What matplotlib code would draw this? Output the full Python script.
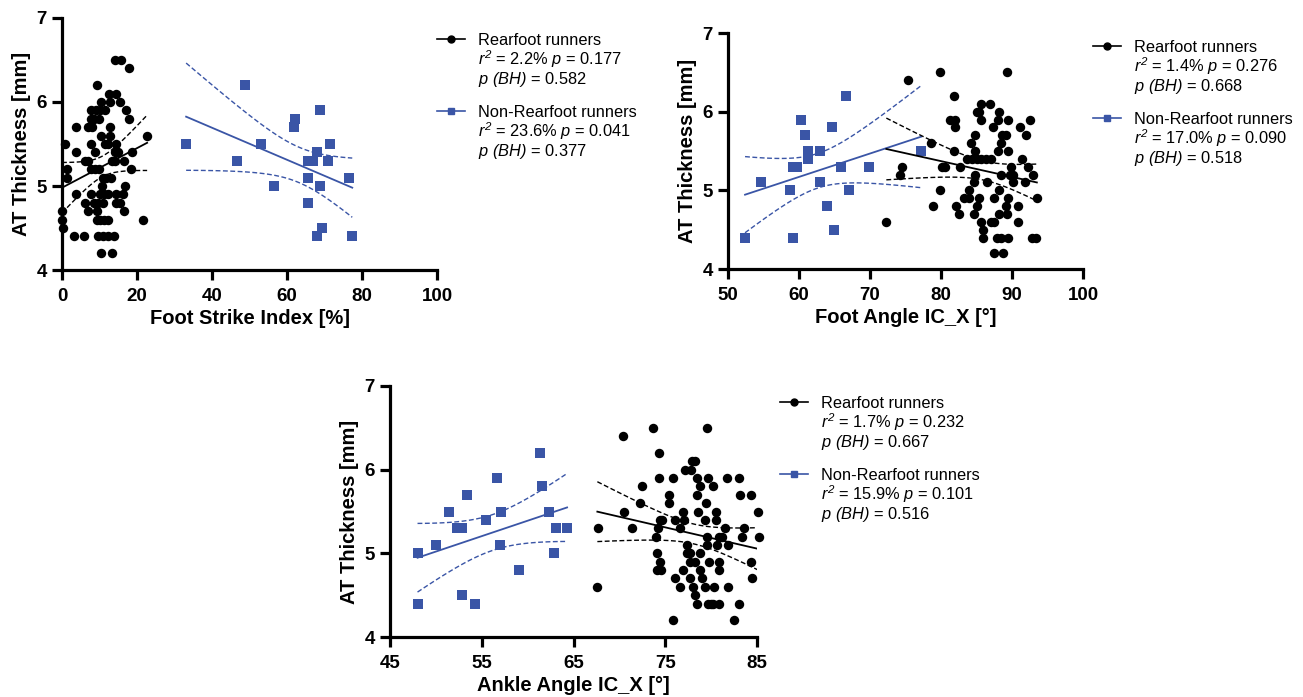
import numpy as np
import matplotlib.pyplot as plt
from matplotlib.lines import Line2D

plt.rcParams['font.family'] = ['Liberation Sans', 'DejaVu Sans']
plt.rcParams['mathtext.fontset'] = 'custom'
plt.rcParams['mathtext.rm'] = 'Liberation Sans:italic'
plt.rcParams['mathtext.it'] = 'Liberation Sans:italic'

BLACK = '#000000'
BLUE = '#3a55a6'
T_REAR = 1.989   # t(0.975, df~81)
T_NON = 2.101    # t(0.975, df=18)

# ---- Foot Strike Index panel ----
fsi_rear_x = [14.1, 15.6, 17.8, 9.4, 12.4, 14.5, 10.5, 12.7, 15.4,
              7.8, 9.0, 10.2, 11.4, 17.0,
              7.6, 8.6, 9.9, 17.9,
              3.8, 6.8, 8.0, 12.9,
              10.5, 12.9, 22.7,
              0.7, 7.6, 11.4, 12.3, 14.5,
              3.6, 8.7, 14.0, 14.9, 18.7,
              6.1, 7.0, 13.2, 14.1, 16.5,
              1.4, 7.8, 8.7, 9.9, 18.3,
              1.3, 10.9, 11.8, 13.0,
              10.7, 16.7,
              3.6, 7.8, 10.0, 11.2, 12.3, 14.5, 16.3,
              6.2, 8.5, 9.6, 10.9, 14.5, 15.4,
              0.0, 6.8, 9.4, 16.4,
              0.0, 9.4, 10.2, 11.2, 12.3, 21.6,
              0.3,
              3.1, 5.9, 9.6, 10.9, 12.3, 13.9,
              10.5, 13.3]
fsi_rear_y = [6.5, 6.5, 6.4, 6.2, 6.1, 6.1, 6.0, 6.0, 6.0,
              5.9, 5.9, 5.9, 5.9, 5.9,
              5.8, 5.8, 5.8, 5.8,
              5.7, 5.7, 5.7, 5.7,
              5.6, 5.6, 5.6,
              5.5, 5.5, 5.5, 5.5, 5.5,
              5.4, 5.4, 5.4, 5.4, 5.4,
              5.3, 5.3, 5.3, 5.3, 5.3,
              5.2, 5.2, 5.2, 5.2, 5.2,
              5.1, 5.1, 5.1, 5.1,
              5.0, 5.0,
              4.9, 4.9, 4.9, 4.9, 4.9, 4.9, 4.9,
              4.8, 4.8, 4.8, 4.8, 4.8, 4.8,
              4.7, 4.7, 4.7, 4.7,
              4.6, 4.6, 4.6, 4.6, 4.6, 4.6,
              4.5,
              4.4, 4.4, 4.4, 4.4, 4.4, 4.4,
              4.2, 4.2]
fsi_non_x = [33.1, 48.8, 46.7, 53.0, 56.6, 61.8, 62.2, 68.8, 65.5, 66.9,
             68.1, 71.0, 71.5, 65.5, 68.9, 65.5, 69.3, 67.9, 76.6, 77.4]
fsi_non_y = [5.5, 6.2, 5.3, 5.5, 5.0, 5.7, 5.8, 5.9, 5.3, 5.3,
             5.4, 5.3, 5.5, 5.1, 5.0, 4.8, 4.5, 4.4, 5.1, 4.4]

# ---- Foot Angle IC_X panel ----
fa_rear_x = [79.8, 89.3, 75.4, 81.8, 85.6, 86.9, 85.0, 85.4, 88.2,
             81.3, 82.0, 85.6, 88.0, 89.5, 92.6,
             82.0, 87.3, 91.1,
             84.8, 88.6, 89.1, 92.0,
             78.6, 84.2, 88.4,
             81.8, 84.8, 88.0, 89.4,
             83.6, 84.3, 85.0, 85.7, 86.4, 87.0, 91.4,
             74.5, 80.2, 80.6, 82.7, 89.9, 92.3,
             74.2, 84.8, 88.5, 89.7, 90.1, 93.0,
             84.6, 86.5, 90.2, 91.9,
             79.8, 84.0, 88.1,
             83.2, 83.9, 85.4, 87.5, 89.5, 93.5,
             78.9, 82.1, 85.0, 89.2, 90.8,
             82.6, 84.6, 88.2, 89.3,
             72.3, 85.7, 87.1, 87.5, 90.8,
             85.9,
             85.9, 87.9, 88.4, 89.4, 92.8, 93.4,
             87.4, 88.7]
fa_rear_y = [6.5, 6.5, 6.4, 6.2, 6.1, 6.1, 6.0, 6.0, 6.0,
             5.9, 5.9, 5.9, 5.9, 5.9, 5.9,
             5.8, 5.8, 5.8,
             5.7, 5.7, 5.7, 5.7,
             5.6, 5.6, 5.6,
             5.5, 5.5, 5.5, 5.5,
             5.4, 5.4, 5.4, 5.4, 5.4, 5.4, 5.4,
             5.3, 5.3, 5.3, 5.3, 5.3, 5.3,
             5.2, 5.2, 5.2, 5.2, 5.2, 5.2,
             5.1, 5.1, 5.1, 5.1,
             5.0, 5.0, 5.0,
             4.9, 4.9, 4.9, 4.9, 4.9, 4.9,
             4.8, 4.8, 4.8, 4.8, 4.8,
             4.7, 4.7, 4.7, 4.7,
             4.6, 4.6, 4.6, 4.6, 4.6,
             4.5,
             4.4, 4.4, 4.4, 4.4, 4.4, 4.4,
             4.2, 4.2]
fa_non_x = [52.4, 54.7, 58.7, 59.2, 59.1, 59.7, 60.3, 60.8, 61.3, 61.3,
            62.9, 63.0, 63.9, 64.7, 64.9, 65.9, 66.6, 67.0, 69.8, 77.2]
fa_non_y = [4.4, 5.1, 5.0, 4.4, 5.3, 5.3, 5.9, 5.7, 5.5, 5.4,
            5.5, 5.1, 4.8, 5.8, 4.5, 5.3, 6.2, 5.0, 5.3, 5.5]

# ---- Ankle Angle IC_X panel ----
aa_rear_x = [73.7, 79.6, 70.4, 74.3, 77.9, 78.2, 77.1, 77.8,
             74.3, 75.8, 78.5, 79.7, 81.7, 83.0,
             72.5, 78.8, 80.2,
             75.4, 78.5, 83.1, 84.3,
             72.3, 75.4, 79.4,
             70.5, 76.9, 78.6, 80.5, 85.1,
             74.4, 74.7, 76.1, 77.0, 79.3, 80.5,
             67.7, 71.4, 74.2, 76.6, 81.5, 83.6,
             74.0, 79.5, 80.9, 81.2, 83.4, 85.2,
             77.4, 79.6, 80.6, 81.8,
             74.1, 77.4, 77.7, 78.8,
             74.4, 77.7, 78.2, 79.8, 80.9, 84.3,
             74.1, 74.5, 76.9, 78.8, 80.9,
             76.1, 77.7, 79.0, 84.5,
             67.6, 76.6, 78.0, 79.3, 80.3, 81.8,
             78.2,
             78.5, 79.7, 80.0, 80.2, 80.9, 83.0,
             75.8, 82.5]
aa_rear_y = [6.5, 6.5, 6.4, 6.2, 6.1, 6.1, 6.0, 6.0,
             5.9, 5.9, 5.9, 5.9, 5.9, 5.9,
             5.8, 5.8, 5.8,
             5.7, 5.7, 5.7, 5.7,
             5.6, 5.6, 5.6,
             5.5, 5.5, 5.5, 5.5, 5.5,
             5.4, 5.4, 5.4, 5.4, 5.4, 5.4,
             5.3, 5.3, 5.3, 5.3, 5.3, 5.3,
             5.2, 5.2, 5.2, 5.2, 5.2, 5.2,
             5.1, 5.1, 5.1, 5.1,
             5.0, 5.0, 5.0, 5.0,
             4.9, 4.9, 4.9, 4.9, 4.9, 4.9,
             4.8, 4.8, 4.8, 4.8, 4.8,
             4.7, 4.7, 4.7, 4.7,
             4.6, 4.6, 4.6, 4.6, 4.6, 4.6,
             4.5,
             4.4, 4.4, 4.4, 4.4, 4.4, 4.4,
             4.2, 4.2]
aa_non_x = [48.0, 48.05, 50.0, 51.4, 52.3, 52.9, 52.9, 53.4, 54.3, 55.5,
            56.7, 57.0, 57.1, 59.1, 61.3, 61.6, 62.3, 62.9, 63.1, 64.3]
aa_non_y = [5.0, 4.4, 5.1, 5.5, 5.3, 5.3, 4.5, 5.7, 4.4, 5.4,
            5.9, 5.1, 5.5, 4.8, 6.2, 5.8, 5.5, 5.0, 5.3, 5.3]

legend_texts = {
    'fsi': [r'$r^2$ = 2.2% $p$ = 0.177', r'$p\ (BH)$ = 0.582',
            r'$r^2$ = 23.6% $p$ = 0.041', r'$p\ (BH)$ = 0.377'],
    'fa': [r'$r^2$ = 1.4% $p$ = 0.276', r'$p\ (BH)$ = 0.668',
           r'$r^2$ = 17.0% $p$ = 0.090', r'$p\ (BH)$ = 0.518'],
    'aa': [r'$r^2$ = 1.7% $p$ = 0.232', r'$p\ (BH)$ = 0.667',
           r'$r^2$ = 15.9% $p$ = 0.101', r'$p\ (BH)$ = 0.516'],
}


def fit_with_ci(x, y, t):
    x = np.asarray(x, float)
    y = np.asarray(y, float)
    b, a = np.polyfit(x, y, 1)
    n = len(x)
    s = np.sqrt(np.sum((y - (a + b * x)) ** 2) / (n - 2))
    sxx = np.sum((x - x.mean()) ** 2)
    xs = np.linspace(x.min(), x.max(), 120)
    yhat = a + b * xs
    half = t * s * np.sqrt(1.0 / n + (xs - x.mean()) ** 2 / sxx)
    return xs, yhat, yhat - half, yhat + half


def draw_group(ax, x, y, color, marker, t):
    ax.plot(x, y, linestyle='none', marker=marker, color=color, ms=6.8,
            mew=0, clip_on=False, zorder=3)
    xs, yhat, lo, hi = fit_with_ci(x, y, t)
    ax.plot(xs, yhat, color=color, lw=1.3, zorder=4)
    for band in (lo, hi):
        ax.plot(xs, band, color=color, lw=1.0, dashes=(3.5, 1.8), zorder=4)


def style_axes(ax, xlim, xticks, xlabel):
    ax.set_xlim(*xlim)
    ax.set_ylim(4, 7)
    ax.set_xticks(xticks)
    ax.set_yticks([4, 5, 6, 7])
    for side in ('top', 'right'):
        ax.spines[side].set_visible(False)
    for side in ('left', 'bottom'):
        ax.spines[side].set_linewidth(2.3)
    ax.tick_params(width=2.3, length=7, labelsize=13.5)
    ax.tick_params(axis='x', pad=6)
    ax.tick_params(axis='y', pad=4)
    for lab in ax.get_xticklabels() + ax.get_yticklabels():
        lab.set_fontweight('bold')
    ax.set_xlabel(xlabel, fontsize=14.5, fontweight='bold', labelpad=2.5)
    ax.set_ylabel('AT Thickness [mm]', fontsize=14.5, fontweight='bold', labelpad=4)


def add_legend(fig, texts, anchor):
    blank = Line2D([], [], linestyle='none')
    rear = Line2D([], [], color=BLACK, marker='o', ms=5, lw=1.2)
    non = Line2D([], [], color=BLUE, marker='s', ms=5, lw=1.2)
    handles = [rear, blank, blank, blank, non, blank, blank]
    labels = ['Rearfoot runners', texts[0], texts[1], ' ',
              'Non-Rearfoot runners', texts[2], texts[3]]
    fig.legend(handles, labels, loc='upper left', bbox_to_anchor=anchor,
               frameon=False, fontsize=11.8, handlelength=1.7,
               handletextpad=0.8, labelspacing=0.02, borderpad=0,
               borderaxespad=0)


W, H = 1303, 697
fig = plt.figure(figsize=(W / 100, H / 100), dpi=100)

ax1 = fig.add_axes([62 / W, 1 - 270 / H, 375 / W, 252 / H])
draw_group(ax1, fsi_rear_x, fsi_rear_y, BLACK, 'o', T_REAR)
draw_group(ax1, fsi_non_x, fsi_non_y, BLUE, 's', T_NON)
style_axes(ax1, (0, 100), [0, 20, 40, 60, 80, 100], 'Foot Strike Index [%]')

ax2 = fig.add_axes([728 / W, 1 - 269 / H, 355 / W, 236 / H])
draw_group(ax2, fa_non_x, fa_non_y, BLUE, 's', T_NON)
draw_group(ax2, fa_rear_x, fa_rear_y, BLACK, 'o', T_REAR)
style_axes(ax2, (50, 100), [50, 60, 70, 80, 90, 100], 'Foot Angle IC_X [°]')

ax3 = fig.add_axes([390 / W, 1 - 637 / H, 367 / W, 251 / H])
draw_group(ax3, aa_non_x, aa_non_y, BLUE, 's', T_NON)
draw_group(ax3, aa_rear_x, aa_rear_y, BLACK, 'o', T_REAR)
style_axes(ax3, (45, 85), [45, 55, 65, 75, 85], 'Ankle Angle IC_X [°]')

add_legend(fig, legend_texts['fsi'], (437 / W, 1 - 33 / H))
add_legend(fig, legend_texts['fa'], (1093 / W, 1 - 40 / H))
add_legend(fig, legend_texts['aa'], (780 / W, 1 - 396 / H))

fig.savefig('out.png', dpi=100)
